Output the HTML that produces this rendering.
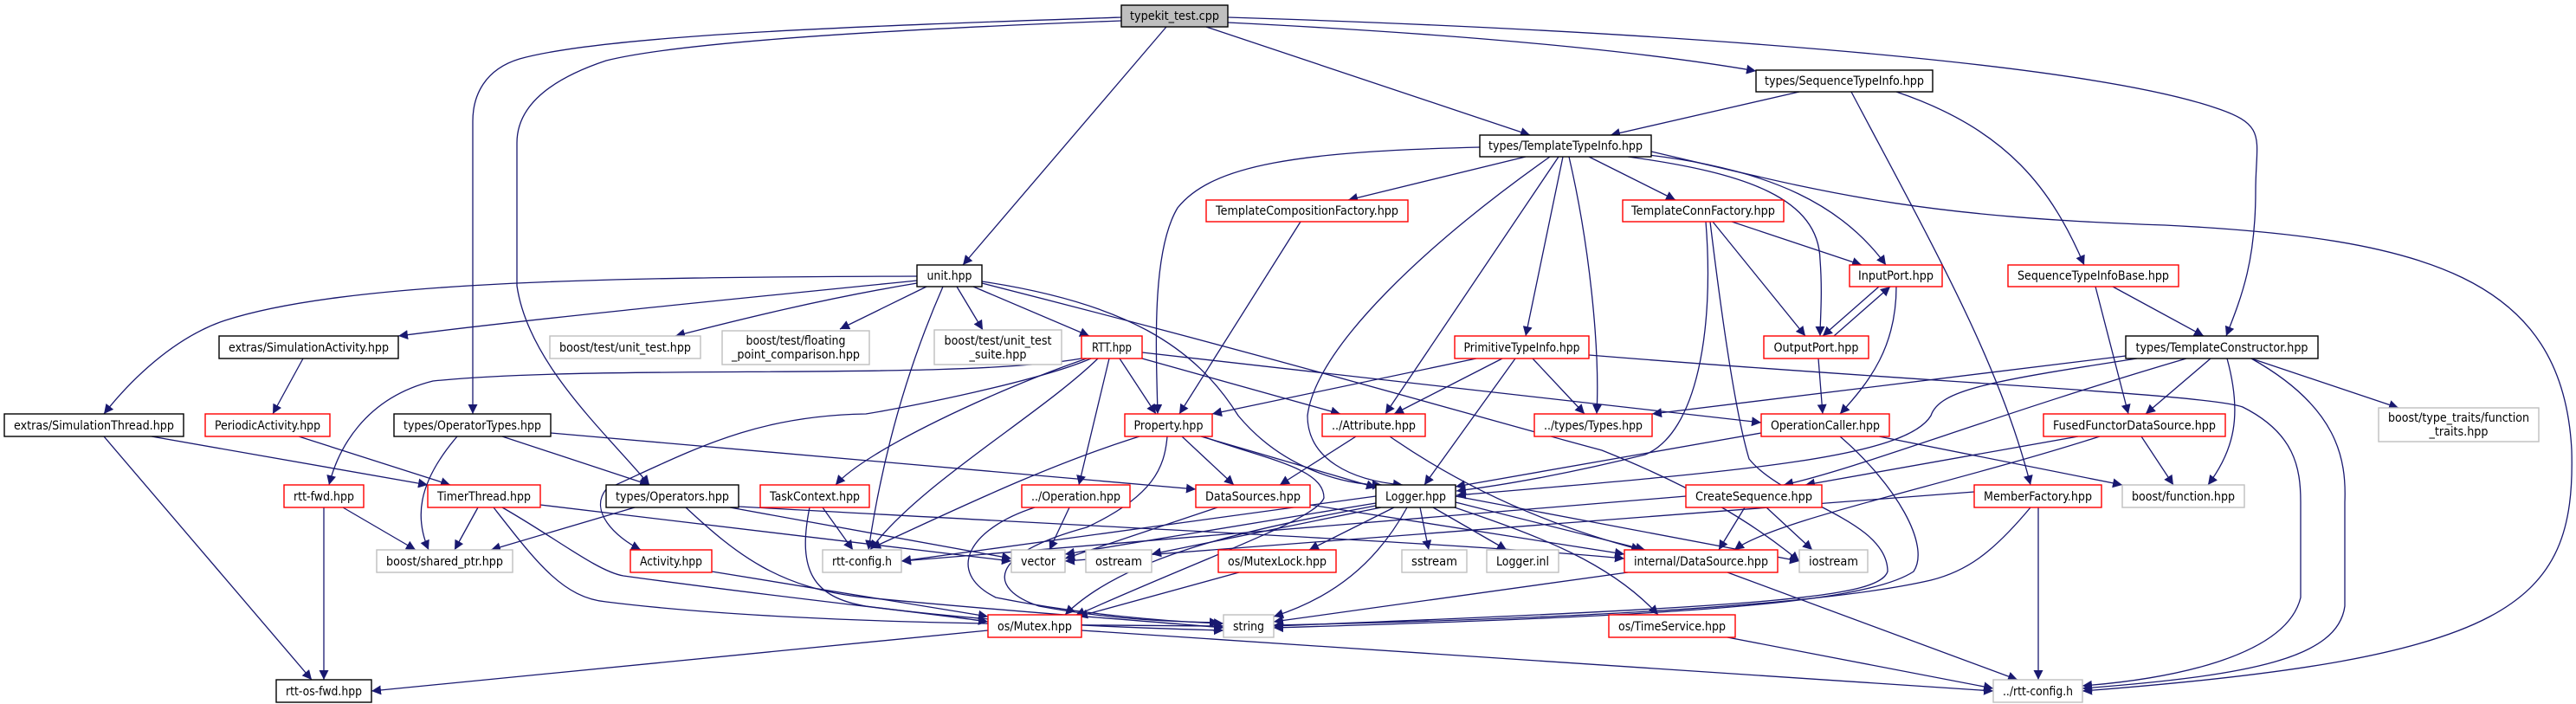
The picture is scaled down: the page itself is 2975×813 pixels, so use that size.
<!DOCTYPE html>
<html><head><meta charset="utf-8"><style>html,body{margin:0;padding:0;background:#fff}svg{display:block}text{font-family:"DejaVu Sans","Liberation Sans",sans-serif;font-size:14px;fill:#000}</style></head><body>
<svg width="2975" height="813" viewBox="0 0 2975 813" xmlns="http://www.w3.org/2000/svg">
<defs><marker id="a" viewBox="0 0 10 10" refX="10" refY="5" markerWidth="11" markerHeight="11" markerUnits="userSpaceOnUse" orient="auto"><path d="M0,0 L10,5 L0,10 z" fill="#191970"/></marker></defs>
<g fill="none" stroke="#191970" stroke-width="1.3" marker-end="url(#a)">
<path d="M1347,31 L1112,306"/>
<path d="M1393,31 L1767,156"/>
<path d="M1418,26 C1700,40 1900,60 2028,82"/>
<path d="M1418,20 C1900,35 2400,70 2560,125 C2620,145 2605,160 2605,220 C2605,300 2590,340 2571,388"/>
<path d="M1295,20 C1000,30 700,40 600,68 C560,80 546,110 546,140 L546,478"/>
<path d="M1295,24 C1000,35 780,50 700,70 C640,90 597,120 597,165 L597,330 C610,420 700,500 750,560"/>
<path d="M1059,319 C700,320 400,325 260,370 C200,390 150,440 120,478"/>
<path d="M1059,324 C800,350 600,370 460,388"/>
<path d="M1059,327 C950,345 850,370 780,388"/>
<path d="M1070,331 L970,380"/>
<path d="M1105,331 L1135,381"/>
<path d="M1124,331 L1258,388"/>
<path d="M1089,331 C1050,420 1020,520 1003,635"/>
<path d="M1134,325 C1300,350 1380,400 1430,480 C1480,540 1550,560 1596,560"/>
<path d="M1134,327 C1500,420 1700,480 1850,520 C1950,560 2020,600 2078,648"/>
<path d="M1249,414 C1100,440 700,420 500,440 C420,460 390,520 380,560"/>
<path d="M1255,414 C1150,450 1000,520 965,560"/>
<path d="M1268,414 C1200,480 1060,560 1005,635"/>
<path d="M1260,414 C1200,440 1050,470 1000,478 C870,480 800,520 700,565 C680,590 710,620 740,635"/>
<path d="M1281,414 L1246,560"/>
<path d="M1293,414 L1335,478"/>
<path d="M1319,414 L1548,478"/>
<path d="M1319,407 L2034,488"/>
<path d="M636,500 L1381,565"/>
<path d="M528,504 C480,560 480,600 495,635"/>
<path d="M580,504 L750,560"/>
<path d="M175,504 L494,560"/>
<path d="M120,504 L360,785"/>
<path d="M345,504 L520,560"/>
<path d="M350,414 L315,478"/>
<path d="M396,586 L480,635"/>
<path d="M374,586 L374,785"/>
<path d="M552,586 L525,635"/>
<path d="M624,583 L1168,648"/>
<path d="M570,586 C620,650 650,690 700,695 C900,720 1200,722 1413,723"/>
<path d="M580,586 C640,620 690,660 720,665 C900,690 1050,705 1141,718"/>
<path d="M733,586 L567,635"/>
<path d="M792,586 C850,640 900,680 1000,690 C1150,705 1300,715 1413,725"/>
<path d="M843,586 L1168,645"/>
<path d="M853,585 C1300,610 1700,628 1876,645"/>
<path d="M822,660 L1141,712"/>
<path d="M950,586 L985,635"/>
<path d="M935,586 C920,660 940,690 1000,700 C1150,720 1300,725 1413,728"/>
<path d="M1141,728 L429,798"/>
<path d="M1249,728 L2302,798"/>
<path d="M1709,170 C1500,175 1400,190 1360,240 C1330,290 1335,400 1337,478"/>
<path d="M1762,181 L1557,231"/>
<path d="M1790,181 C1650,280 1520,400 1510,480 C1510,530 1560,555 1620,560"/>
<path d="M1800,181 L1600,478"/>
<path d="M1805,181 L1762,388"/>
<path d="M1812,181 C1835,280 1848,400 1844,478"/>
<path d="M1835,181 L1935,231"/>
<path d="M1880,181 C2020,200 2100,230 2102,300 C2105,340 2102,370 2102,388"/>
<path d="M1895,178 C2050,195 2130,240 2178,306"/>
<path d="M1907,175 C2100,220 2200,250 2500,260 C2800,275 2960,320 2970,520 C2975,700 2900,760 2405,798"/>
<path d="M1502,256 L1362,478"/>
<path d="M2000,256 L2150,306"/>
<path d="M1978,256 L2085,388"/>
<path d="M1970,256 C1980,380 1960,500 1900,525 C1820,545 1740,560 1682,567"/>
<path d="M1975,256 C1990,380 2005,480 2020,530 C2060,580 2180,600 2180,660 C2170,690 2050,700 1471,723"/>
<path d="M2170,331 L2105,388"/>
<path d="M2118,388 L2183,331"/>
<path d="M2190,331 C2190,400 2160,440 2125,478"/>
<path d="M2100,414 L2105,478"/>
<path d="M2034,500 L1681,562"/>
<path d="M2125,504 C2190,560 2230,630 2210,660 C2150,700 1900,712 1471,725"/>
<path d="M2170,504 L2451,560"/>
<path d="M2078,106 L1860,156"/>
<path d="M2138,106 C2230,280 2310,420 2345,560"/>
<path d="M2190,106 C2320,150 2370,220 2407,306"/>
<path d="M2440,331 L2545,388"/>
<path d="M2420,331 L2458,478"/>
<path d="M2455,411 L1908,478"/>
<path d="M2468,414 C2300,440 2240,450 2230,480 C2200,530 2000,545 1682,572"/>
<path d="M2525,414 C2300,480 2150,540 2060,560"/>
<path d="M2553,414 L2478,478"/>
<path d="M2572,414 C2590,480 2580,520 2550,560"/>
<path d="M2600,414 L2770,471"/>
<path d="M2600,414 C2700,470 2710,530 2708,580 L2708,700 C2700,760 2600,780 2405,795"/>
<path d="M1835,410 C2200,440 2550,455 2590,470 C2650,500 2657,540 2657,580 L2657,690 C2640,760 2500,785 2405,792"/>
<path d="M1705,414 L1400,478"/>
<path d="M1735,414 L1610,478"/>
<path d="M1770,414 L1830,478"/>
<path d="M1750,414 L1645,560"/>
<path d="M2400,504 L2085,560"/>
<path d="M2425,504 C2250,560 2050,600 2003,635"/>
<path d="M2473,504 L2510,560"/>
<path d="M2015,586 L1985,635"/>
<path d="M2040,586 L2093,635"/>
<path d="M1947,573 L1041,648"/>
<path d="M2280,568 L1230,648"/>
<path d="M2354,586 L2354,785"/>
<path d="M2345,586 C2300,640 2270,660 2230,670 C2100,700 1800,715 1471,722"/>
<path d="M1316,504 C1200,540 1080,600 1006,633"/>
<path d="M1365,504 L1425,560"/>
<path d="M1387,504 L1589,563"/>
<path d="M1348,504 C1345,540 1332,573 1255,609 C1140,640 1140,680 1200,700 C1280,715 1350,718 1408,719"/>
<path d="M1389,504 C1460,530 1529,540 1529,575 C1520,600 1400,640 1242,711"/>
<path d="M1566,504 L1478,560"/>
<path d="M1605,504 C1700,570 1800,610 1895,635"/>
<path d="M1406,586 L1230,645"/>
<path d="M1513,583 L1876,640"/>
<path d="M1235,586 L1212,635"/>
<path d="M1195,586 C1120,610 1090,660 1150,690 C1250,710 1350,718 1413,720"/>
<path d="M1589,573 L1041,648"/>
<path d="M1589,581 L1230,640"/>
<path d="M1595,586 L1330,640"/>
<path d="M1610,586 L1512,635"/>
<path d="M1640,586 L1650,635"/>
<path d="M1655,586 L1740,635"/>
<path d="M1681,580 L1900,635"/>
<path d="M1680,586 C1780,620 1860,650 1915,710"/>
<path d="M1625,586 C1590,650 1540,690 1471,712"/>
<path d="M1589,584 C1450,610 1300,640 1230,710"/>
<path d="M1681,573 L2078,648"/>
<path d="M1431,661 L1245,712"/>
<path d="M1880,661 L1471,718"/>
<path d="M1995,661 L2330,785"/>
<path d="M1995,736 L2302,795"/>
</g>
<g stroke-width="1.4">
<rect x="1295" y="6" width="123" height="25" fill="#bfbfbf" stroke="#000"/>
<rect x="1709" y="156" width="198" height="25" fill="#fff" stroke="#000"/>
<rect x="2028" y="81" width="204" height="25" fill="#fff" stroke="#000"/>
<rect x="1393" y="231" width="233" height="25" fill="#fff" stroke="#f00"/>
<rect x="1874" y="231" width="186" height="25" fill="#fff" stroke="#f00"/>
<rect x="1059" y="306" width="75" height="25" fill="#fff" stroke="#000"/>
<rect x="2136" y="306" width="107" height="25" fill="#fff" stroke="#f00"/>
<rect x="2319" y="306" width="197" height="25" fill="#fff" stroke="#f00"/>
<rect x="253" y="388" width="207" height="26" fill="#fff" stroke="#000"/>
<rect x="635" y="388" width="174" height="26" fill="#fff" stroke="#bfbfbf"/>
<rect x="834" y="382" width="170" height="39" fill="#fff" stroke="#bfbfbf"/>
<rect x="1079" y="381" width="147" height="40" fill="#fff" stroke="#bfbfbf"/>
<rect x="1249" y="388" width="70" height="26" fill="#fff" stroke="#f00"/>
<rect x="1680" y="388" width="155" height="26" fill="#fff" stroke="#f00"/>
<rect x="2037" y="388" width="121" height="26" fill="#fff" stroke="#f00"/>
<rect x="2455" y="388" width="222" height="26" fill="#fff" stroke="#000"/>
<rect x="5" y="478" width="207" height="26" fill="#fff" stroke="#000"/>
<rect x="237" y="478" width="144" height="26" fill="#fff" stroke="#f00"/>
<rect x="455" y="478" width="181" height="26" fill="#fff" stroke="#000"/>
<rect x="1299" y="478" width="101" height="26" fill="#fff" stroke="#f00"/>
<rect x="1527" y="478" width="119" height="26" fill="#fff" stroke="#f00"/>
<rect x="1772" y="478" width="136" height="26" fill="#fff" stroke="#f00"/>
<rect x="2034" y="478" width="148" height="26" fill="#fff" stroke="#f00"/>
<rect x="2360" y="478" width="210" height="26" fill="#fff" stroke="#f00"/>
<rect x="2747" y="471" width="185" height="39" fill="#fff" stroke="#bfbfbf"/>
<rect x="328" y="560" width="92" height="26" fill="#fff" stroke="#f00"/>
<rect x="494" y="560" width="130" height="26" fill="#fff" stroke="#f00"/>
<rect x="700" y="560" width="153" height="26" fill="#fff" stroke="#000"/>
<rect x="878" y="560" width="126" height="26" fill="#fff" stroke="#f00"/>
<rect x="1180" y="560" width="125" height="26" fill="#fff" stroke="#f00"/>
<rect x="1381" y="560" width="132" height="26" fill="#fff" stroke="#f00"/>
<rect x="1589" y="560" width="92" height="26" fill="#fff" stroke="#000"/>
<rect x="1947" y="560" width="157" height="26" fill="#fff" stroke="#f00"/>
<rect x="2280" y="560" width="147" height="26" fill="#fff" stroke="#f00"/>
<rect x="2451" y="560" width="141" height="26" fill="#fff" stroke="#bfbfbf"/>
<rect x="435" y="635" width="157" height="26" fill="#fff" stroke="#bfbfbf"/>
<rect x="728" y="635" width="94" height="26" fill="#fff" stroke="#f00"/>
<rect x="950" y="635" width="91" height="26" fill="#fff" stroke="#bfbfbf"/>
<rect x="1168" y="635" width="62" height="26" fill="#fff" stroke="#bfbfbf"/>
<rect x="1254" y="635" width="76" height="26" fill="#fff" stroke="#bfbfbf"/>
<rect x="1407" y="635" width="136" height="26" fill="#fff" stroke="#f00"/>
<rect x="1619" y="635" width="75" height="26" fill="#fff" stroke="#bfbfbf"/>
<rect x="1717" y="635" width="83" height="26" fill="#fff" stroke="#bfbfbf"/>
<rect x="1876" y="635" width="177" height="26" fill="#fff" stroke="#f00"/>
<rect x="2078" y="635" width="79" height="26" fill="#fff" stroke="#bfbfbf"/>
<rect x="1141" y="710" width="108" height="26" fill="#fff" stroke="#f00"/>
<rect x="1413" y="710" width="58" height="26" fill="#fff" stroke="#bfbfbf"/>
<rect x="1858" y="710" width="146" height="26" fill="#fff" stroke="#f00"/>
<rect x="319" y="785" width="110" height="26" fill="#fff" stroke="#000"/>
<rect x="2302" y="785" width="103" height="26" fill="#fff" stroke="#bfbfbf"/>
</g>
<g text-anchor="middle" lengthAdjust="spacingAndGlyphs">
<text x="1356.5" y="23" textLength="103" lengthAdjust="spacingAndGlyphs">typekit_test.cpp</text>
<text x="1808" y="173" textLength="178" lengthAdjust="spacingAndGlyphs">types/TemplateTypeInfo.hpp</text>
<text x="2130" y="98" textLength="184" lengthAdjust="spacingAndGlyphs">types/SequenceTypeInfo.hpp</text>
<text x="1509.5" y="248" textLength="211" lengthAdjust="spacingAndGlyphs">TemplateCompositionFactory.hpp</text>
<text x="1967" y="248" textLength="166" lengthAdjust="spacingAndGlyphs">TemplateConnFactory.hpp</text>
<text x="1096.5" y="323" textLength="52" lengthAdjust="spacingAndGlyphs">unit.hpp</text>
<text x="2189.5" y="323" textLength="87" lengthAdjust="spacingAndGlyphs">InputPort.hpp</text>
<text x="2417.5" y="323" textLength="175" lengthAdjust="spacingAndGlyphs">SequenceTypeInfoBase.hpp</text>
<text x="356.5" y="406" textLength="185" lengthAdjust="spacingAndGlyphs">extras/SimulationActivity.hpp</text>
<text x="722" y="406" textLength="152" lengthAdjust="spacingAndGlyphs">boost/test/unit_test.hpp</text>
<text x="919" y="398" textLength="115" lengthAdjust="spacingAndGlyphs">boost/test/floating</text>
<text x="919" y="414" textLength="148" lengthAdjust="spacingAndGlyphs">_point_comparison.hpp</text>
<text x="1152.5" y="398" textLength="124" lengthAdjust="spacingAndGlyphs">boost/test/unit_test</text>
<text x="1152.5" y="414" textLength="66" lengthAdjust="spacingAndGlyphs">_suite.hpp</text>
<text x="1284" y="406" textLength="46" lengthAdjust="spacingAndGlyphs">RTT.hpp</text>
<text x="1757.5" y="406" textLength="134" lengthAdjust="spacingAndGlyphs">PrimitiveTypeInfo.hpp</text>
<text x="2097.5" y="406" textLength="98" lengthAdjust="spacingAndGlyphs">OutputPort.hpp</text>
<text x="2566" y="406" textLength="199" lengthAdjust="spacingAndGlyphs">types/TemplateConstructor.hpp</text>
<text x="108.5" y="496" textLength="185" lengthAdjust="spacingAndGlyphs">extras/SimulationThread.hpp</text>
<text x="309" y="496" textLength="122" lengthAdjust="spacingAndGlyphs">PeriodicActivity.hpp</text>
<text x="545.5" y="496" textLength="159" lengthAdjust="spacingAndGlyphs">types/OperatorTypes.hpp</text>
<text x="1349.5" y="496" textLength="80" lengthAdjust="spacingAndGlyphs">Property.hpp</text>
<text x="1586.5" y="496" textLength="97" lengthAdjust="spacingAndGlyphs">../Attribute.hpp</text>
<text x="1840" y="496" textLength="114" lengthAdjust="spacingAndGlyphs">../types/Types.hpp</text>
<text x="2108" y="496" textLength="126" lengthAdjust="spacingAndGlyphs">OperationCaller.hpp</text>
<text x="2465" y="496" textLength="188" lengthAdjust="spacingAndGlyphs">FusedFunctorDataSource.hpp</text>
<text x="2839.5" y="487" textLength="163" lengthAdjust="spacingAndGlyphs">boost/type_traits/function</text>
<text x="2839.5" y="503" textLength="68" lengthAdjust="spacingAndGlyphs">_traits.hpp</text>
<text x="374" y="578" textLength="70" lengthAdjust="spacingAndGlyphs">rtt-fwd.hpp</text>
<text x="559" y="578" textLength="108" lengthAdjust="spacingAndGlyphs">TimerThread.hpp</text>
<text x="776.5" y="578" textLength="131" lengthAdjust="spacingAndGlyphs">types/Operators.hpp</text>
<text x="941" y="578" textLength="104" lengthAdjust="spacingAndGlyphs">TaskContext.hpp</text>
<text x="1242.5" y="578" textLength="103" lengthAdjust="spacingAndGlyphs">../Operation.hpp</text>
<text x="1447" y="578" textLength="110" lengthAdjust="spacingAndGlyphs">DataSources.hpp</text>
<text x="1635" y="578" textLength="70" lengthAdjust="spacingAndGlyphs">Logger.hpp</text>
<text x="2025.5" y="578" textLength="135" lengthAdjust="spacingAndGlyphs">CreateSequence.hpp</text>
<text x="2353.5" y="578" textLength="125" lengthAdjust="spacingAndGlyphs">MemberFactory.hpp</text>
<text x="2521.5" y="578" textLength="119" lengthAdjust="spacingAndGlyphs">boost/function.hpp</text>
<text x="513.5" y="653" textLength="135" lengthAdjust="spacingAndGlyphs">boost/shared_ptr.hpp</text>
<text x="775" y="653" textLength="72" lengthAdjust="spacingAndGlyphs">Activity.hpp</text>
<text x="995.5" y="653" textLength="69" lengthAdjust="spacingAndGlyphs">rtt-config.h</text>
<text x="1199" y="653" textLength="40" lengthAdjust="spacingAndGlyphs">vector</text>
<text x="1292" y="653" textLength="54" lengthAdjust="spacingAndGlyphs">ostream</text>
<text x="1475" y="653" textLength="114" lengthAdjust="spacingAndGlyphs">os/MutexLock.hpp</text>
<text x="1656.5" y="653" textLength="53" lengthAdjust="spacingAndGlyphs">sstream</text>
<text x="1758.5" y="653" textLength="61" lengthAdjust="spacingAndGlyphs">Logger.inl</text>
<text x="1964.5" y="653" textLength="155" lengthAdjust="spacingAndGlyphs">internal/DataSource.hpp</text>
<text x="2117.5" y="653" textLength="57" lengthAdjust="spacingAndGlyphs">iostream</text>
<text x="1195" y="728" textLength="86" lengthAdjust="spacingAndGlyphs">os/Mutex.hpp</text>
<text x="1442" y="728" textLength="36" lengthAdjust="spacingAndGlyphs">string</text>
<text x="1931" y="728" textLength="124" lengthAdjust="spacingAndGlyphs">os/TimeService.hpp</text>
<text x="374" y="803" textLength="88" lengthAdjust="spacingAndGlyphs">rtt-os-fwd.hpp</text>
<text x="2353.5" y="803" textLength="81" lengthAdjust="spacingAndGlyphs">../rtt-config.h</text>
</g>
</svg>
</body></html>
